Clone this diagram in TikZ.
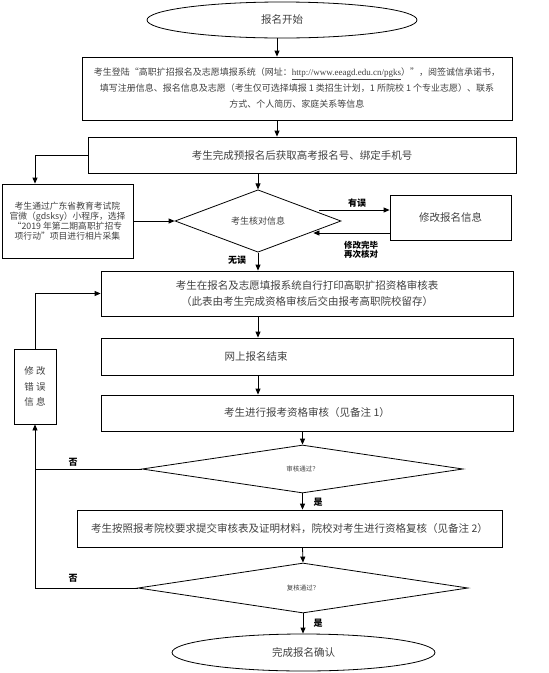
\documentclass[tikz,border=0pt]{standalone}
\usepackage{fontspec}
\setmainfont{Noto Sans CJK SC}
\newfontfamily\urlfont{Liberation Serif}
\usetikzlibrary{shapes.geometric,arrows.meta,calc}

\tikzset{
  box/.style={draw, line width=0.8pt, minimum height=36pt, inner sep=0pt, align=center, text=black!75, font=\fontsize{10.5}{16}\selectfont},
  dia/.style={draw, diamond, line width=0.8pt, inner sep=0pt, text=black!75},
  term/.style={draw, ellipse, line width=0.8pt, inner sep=0pt, text=black!75, font=\fontsize{10.5}{12}\selectfont},
  arr/.style={line width=0.8pt, -{Triangle[length=6pt,width=5pt]}},
  lbl/.style={font=\fontsize{9}{10}\selectfont\bfseries}
}

\begin{document}
\begin{tikzpicture}[x=1pt,y=-1pt]
  \useasboundingbox (0,0) rectangle (549,673);
  \coordinate (colA) at (277,0);
  % main column
  \node[term, minimum width=270pt, minimum height=36pt] (start) at (282,20) {报名开始};
  \node[box, minimum width=430pt, minimum height=63pt, font=\fontsize{9}{16}\selectfont] (reg) at (297,88.5) {考生登陆“高职扩招报名及志愿填报系统（网址：{\urlfont\underline{http://www.eeagd.edu.cn/pgks}}）”，阅签诚信承诺书，\\填写注册信息、报名信息及志愿（考生仅可选择填报 1 类招生计划，1 所院校 1 个专业志愿）、联系\\方式、个人简历、家庭关系等信息};
  \node[box, minimum width=428pt] (pre) at (302,155) {考生完成预报名后获取高考报名号、绑定手机号};
  \node[box, minimum width=131pt, minimum height=74pt, font=\fontsize{8.8}{10}\selectfont] (photo) at (67.5,221) {考生通过广东省教育考试院\\官微（gdsksy）小程序，选择\\“2019 年第二期高职扩招专\\项行动”项目进行相片采集};
  \node[dia, minimum width=166pt, minimum height=60pt, font=\fontsize{9}{10}\selectfont] (check) at (258,221) {考生核对信息};
  \node[box, minimum width=121pt, minimum height=45pt] (fix) at (450.5,217.5) {修改报名信息};
  \node[box, minimum width=412pt, minimum height=45pt] (print) at (307,293.5) {考生在报名及志愿填报系统自行打印高职扩招资格审核表\\（此表由考生完成资格审核后交由报考高职院校留存）};
  \node[box, minimum width=412pt, minimum height=37pt] (online) at (307,356.5) {};
  \node[text=black!75, font=\fontsize{10.5}{12}\selectfont] (onlinetext) at (256,356.5) {网上报名结束};
  \node[box, minimum width=412pt, minimum height=36pt] (audit) at (307,413) {考生进行报考资格审核（见备注 1）};
  \node[dia, minimum width=321pt, minimum height=48pt, font=\fontsize{6.5}{8}\selectfont] (pass1) at (302.5,469) {审核通过？};
  \node[box, minimum width=425pt, minimum height=37pt] (submit) at (289.5,528.5) {考生按照报考院校要求提交审核表及证明材料，院校对考生进行资格复核（见备注 2）};
  \node[dia, minimum width=330pt, minimum height=50pt, font=\fontsize{6.5}{8}\selectfont] (pass2) at (303,588) {复核通过？};
  \node[term, minimum width=263pt, minimum height=37pt] (done) at (303.5,652.5) {完成报名确认};
  \node[box, minimum width=42pt, minimum height=75pt, font=\fontsize{9.5}{15.5}\selectfont] (redo) at (35,386.5) {修 改\\错 误\\信 息};

  % connectors
  \draw[arr] (start.south -| colA) -- (reg.north -| colA);
  \draw[arr] (reg.south -| colA) -- (pre.north -| colA);
  \draw[arr] (pre.west) -| ([xshift=-32.5pt]photo.north);
  \draw[arr] (photo.east) -- (check.west);
  \draw[arr] (pre.south -| check) -- (check.north);
  \coordinate (errout) at ($(check.east)+(-22,-11)$);
  \coordinate (errin) at ($(check.east)+(-28,12)$);
  \draw[arr] (errout) -- (errout -| fix.west);
  \draw[arr] (errin -| fix.west) -- (errin);
  \draw[arr] (check.south) -- (print.north -| check);
  \draw[arr] (print.south -| check) -- (online.north -| check);
  \draw[arr] (online.south -| check) -- (audit.north -| check);
  \draw[arr] (audit.south -| pass1) -- (pass1.north);
  \draw[arr] (pass1.south) -- (submit.north -| pass1);
  \draw[arr] (submit.south -| pass1) -- (pass2.north);
  \draw[arr] (pass2.south) -- (done.north -| pass2);
  \draw[line width=0.8pt] (pass1.west) -- (pass1.west -| redo);
  \draw[arr] (pass2.west) -| (redo.south);
  \draw[arr] (redo.north) |- (print.west);

  % labels
  \node[lbl] (errlbl) at (357,203) {有误};
  \node[lbl, align=center, font=\fontsize{8.5}{9}\selectfont\bfseries] (againlbl) at (361,250) {修改完毕\\再次核对};
  \node[lbl] (oklbl) at (237,260) {无误};
  \node[lbl] (yes1) at (318,502) {是};
  \node[lbl] (yes2) at (318,623) {是};
  \node[lbl] (no1) at (73,462) {否};
  \node[lbl] (no2) at (73,578) {否};
\end{tikzpicture}
\end{document}
